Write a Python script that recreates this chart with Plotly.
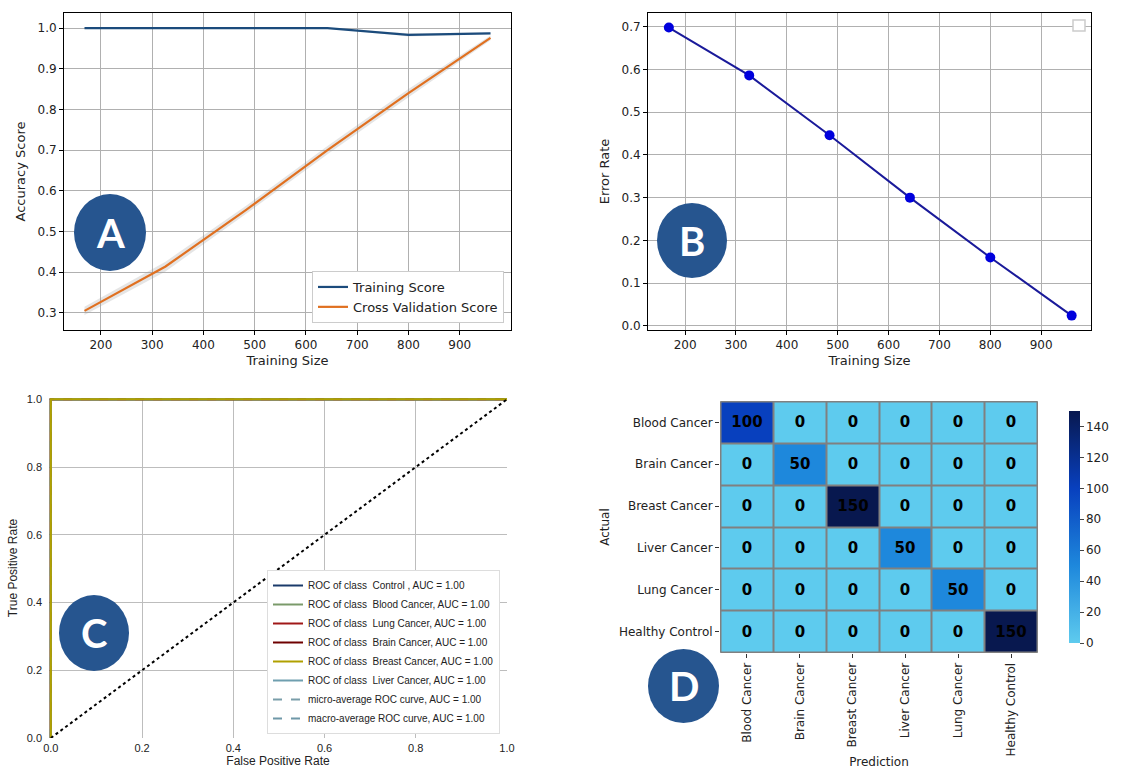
import plotly.graph_objects as go

W, H = 1147, 769

# ---------------- data ----------------
train_sizes = [168, 326, 484, 642, 800, 960]
train_score = [1.0, 1.0, 1.0, 1.0, 0.983, 0.987]
train_std = [0.0, 0.0, 0.0, 0.0, 0.004, 0.002]
cv_score = [0.305, 0.414, 0.554, 0.700, 0.840, 0.976]
cv_std = [0.010, 0.012, 0.010, 0.010, 0.010, 0.006]

error_rate = [0.698, 0.586, 0.446, 0.300, 0.160, 0.024]

roc_fpr = [0.0, 0.0, 1.0]
roc_tpr = [0.0, 1.0, 1.0]
diag = [0.0, 1.0]
roc_classes = ["ROC of class  Control , AUC = 1.00",
               "ROC of class  Blood Cancer, AUC = 1.00",
               "ROC of class  Lung Cancer, AUC = 1.00",
               "ROC of class  Brain Cancer, AUC = 1.00",
               "ROC of class  Breast Cancer, AUC = 1.00",
               "ROC of class  Liver Cancer, AUC = 1.00",
               "micro-average ROC curve, AUC = 1.00",
               "macro-average ROC curve, AUC = 1.00"]
roc_colors = ["#1a3a6a", "#7a9a6a", "#a01818", "#6e0000", "#b0a000", "#6f9faf", "#7a9eaa", "#6f98a8"]
roc_dash = ["solid"] * 6 + ["dash", "dash"]
draw_order = [0, 5, 2, 3, 6, 7, 1, 4]

cm_labels = ["Blood Cancer", "Brain Cancer", "Breast Cancer", "Liver Cancer", "Lung Cancer", "Healthy Control"]
cm_values = [[100, 0, 0, 0, 0, 0],
             [0, 50, 0, 0, 0, 0],
             [0, 0, 150, 0, 0, 0],
             [0, 0, 0, 50, 0, 0],
             [0, 0, 0, 0, 50, 0],
             [0, 0, 0, 0, 0, 150]]

# ---------------- helpers ----------------
def px(x):
    return x / W

def py(y):
    return 1 - y / H

DJ = "DejaVu Sans"
AR = "Liberation Sans, Arial"

fig = go.Figure()

# ---- Panel A ----
gray_fill = "rgba(150,150,150,0.25)"
fig.add_trace(go.Scatter(x=train_sizes, y=[s + d for s, d in zip(train_score, train_std)], mode="lines",
                         line=dict(width=0), showlegend=False, hoverinfo="skip", xaxis="x", yaxis="y"))
fig.add_trace(go.Scatter(x=train_sizes, y=[s - d for s, d in zip(train_score, train_std)], mode="lines",
                         line=dict(width=0), fill="tonexty", fillcolor=gray_fill, showlegend=False,
                         hoverinfo="skip", xaxis="x", yaxis="y"))
fig.add_trace(go.Scatter(x=train_sizes, y=[s + d for s, d in zip(cv_score, cv_std)], mode="lines",
                         line=dict(width=0), showlegend=False, hoverinfo="skip", xaxis="x", yaxis="y"))
fig.add_trace(go.Scatter(x=train_sizes, y=[s - d for s, d in zip(cv_score, cv_std)], mode="lines",
                         line=dict(width=0), fill="tonexty", fillcolor=gray_fill, showlegend=False,
                         hoverinfo="skip", xaxis="x", yaxis="y"))
fig.add_trace(go.Scatter(x=train_sizes, y=train_score, mode="lines", name="Training Score",
                         line=dict(color="#1b4b7c", width=2.2), xaxis="x", yaxis="y", legend="legend"))
fig.add_trace(go.Scatter(x=train_sizes, y=cv_score, mode="lines", name="Cross Validation Score",
                         line=dict(color="#e07020", width=2.2), xaxis="x", yaxis="y", legend="legend"))

# ---- Panel B ----
fig.add_trace(go.Scatter(x=train_sizes, y=error_rate, mode="lines+markers", showlegend=False,
                         line=dict(color="#1a1a9a", width=2),
                         marker=dict(color="#0000dd", size=10), xaxis="x2", yaxis="y2"))

# ---- Panel C ----
for i in draw_order:
    fig.add_trace(go.Scatter(x=roc_fpr, y=roc_tpr, mode="lines", name=roc_classes[i],
                             line=dict(color=roc_colors[i], width=2, dash=roc_dash[i]),
                             legendrank=i + 1, xaxis="x3", yaxis="y3", legend="legend2"))
fig.add_trace(go.Scatter(x=diag, y=diag, mode="lines", showlegend=False,
                         line=dict(color="black", width=2, dash="dot"), xaxis="x3", yaxis="y3"))

# ---- Panel D ----
fig.add_trace(go.Heatmap(z=cm_values, x=cm_labels, y=cm_labels, zmin=0, zmax=150,
                         colorscale=[[0, "#5ecbee"], [0.333, "#1e88dc"], [0.667, "#0840be"], [1, "#08184f"]],
                         xgap=2, ygap=2, texttemplate="%{z}",
                         textfont=dict(family=DJ, size=15, color="black", weight="bold"),
                         xaxis="x4", yaxis="y4",
                         colorbar=dict(x=px(1059), xanchor="left", thickness=11, len=(653 - 401) / H,
                                       lenmode="fraction", y=(py(401) + py(653)) / 2, yanchor="middle",
                                       outlinewidth=0, ticks="outside", ticklen=4,
                                       tickvals=list(range(0, 150, 20)),
                                       tickfont=dict(family=DJ, size=12, color="#222"))))

# ---------------- axes ----------------
frame = dict(showline=True, mirror=True, linecolor="black", linewidth=1, ticks="outside", ticklen=4,
             tickcolor="black", showgrid=True, gridcolor="#b0b0b0", gridwidth=1, zeroline=False,
             automargin=False, tickfont=dict(family=DJ, size=12, color="#222"))

fig.update_layout(
    xaxis=dict(domain=[px(64), px(511)], anchor="y", range=[128, 1000], tickvals=list(range(200, 1000, 100)),
               title=dict(text="Training Size", font=dict(family=DJ, size=13, color="#222"), standoff=4), **frame),
    yaxis=dict(domain=[py(330), py(13)], anchor="x", range=[0.258, 1.037], dtick=0.1, tickformat=".1f",
               title=dict(text="Accuracy Score", font=dict(family=DJ, size=13, color="#222"), standoff=8), **frame),
    xaxis2=dict(domain=[px(648), px(1091)], anchor="y2", range=[127, 998], tickvals=list(range(200, 1000, 100)),
                title=dict(text="Training Size", font=dict(family=DJ, size=13, color="#222"), standoff=4), **frame),
    yaxis2=dict(domain=[py(330), py(13)], anchor="x2", range=[-0.0097, 0.732], dtick=0.1, tickformat=".1f",
                title=dict(text="Error Rate", font=dict(family=DJ, size=13, color="#222"), standoff=8), **frame),
    xaxis3=dict(domain=[px(49), px(507)], anchor="y3", range=[-0.004, 1.0], tickvals=[0, 0.2, 0.4, 0.6, 0.8, 1.0],
                tickformat=".1f", automargin=False, ticklabelstandoff=2,
                showline=False, showgrid=True, gridcolor="#bdbdbd", zeroline=False, ticks="",
                tickfont=dict(family=AR, size=11, color="#222"),
                title=dict(text="False Positive Rate", font=dict(family=AR, size=12, color="#222"), standoff=0)),
    yaxis3=dict(domain=[py(738), py(398)], anchor="x3", range=[0, 1.004], tickvals=[0, 0.2, 0.4, 0.6, 0.8, 1.0],
                tickformat=".1f", automargin=False, ticklabelstandoff=6,
                showline=False, showgrid=True, gridcolor="#bdbdbd", zeroline=False, ticks="",
                tickfont=dict(family=AR, size=11, color="#222"),
                title=dict(text="True Positive Rate", font=dict(family=AR, size=12, color="#222"), standoff=6)),
    xaxis4=dict(domain=[px(720), px(1038)], anchor="y4", tickangle=-90, ticks="outside", ticklen=4,
                tickcolor="#333", showgrid=False, zeroline=False, showline=False, automargin=False,
                tickfont=dict(family=DJ, size=12, color="#222"),
                title=dict(text="Prediction", font=dict(family=DJ, size=12, color="#222"), standoff=2)),
    yaxis4=dict(domain=[py(653), py(401)], anchor="x4", autorange="reversed", ticks="outside", ticklen=4,
                tickcolor="#333", showgrid=False, zeroline=False, showline=False, automargin=False,
                tickfont=dict(family=DJ, size=12, color="#222"),
                title=dict(text="Actual", font=dict(family=DJ, size=12, color="#222"), standoff=6)),
)

# ---------------- legends ----------------
fig.update_layout(
    legend=dict(x=px(504), xanchor="right", y=py(323), yanchor="bottom", bgcolor="white",
                bordercolor="#cccccc", borderwidth=1, font=dict(family=DJ, size=13, color="#222"),
                tracegroupgap=0, traceorder="normal"),
    legend2=dict(x=px(500), xanchor="right", y=py(734), yanchor="bottom", bgcolor="white",
                 bordercolor="#dddddd", borderwidth=1, font=dict(family=AR, size=10, color="#222"),
                 tracegroupgap=0, traceorder="normal", itemwidth=30),
)

# ---------------- shapes & badges ----------------
shapes = [
    # heatmap grid background (gray cell borders)
    dict(type="rect", xref="x4", yref="y4", x0=-0.5, x1=len(cm_labels) - 0.5, y0=-0.5, y1=len(cm_labels) - 0.5,
         fillcolor="#808080", line=dict(color="#808080", width=1), layer="below"),
    # empty legend box in panel B
    dict(type="rect", xref="paper", yref="paper", x0=px(1073), x1=px(1085), y0=py(31), y1=py(20),
         fillcolor="white", line=dict(color="#cccccc", width=1.5)),
]
badges = [("A", 74, 194, 146, 271), ("B", 657, 203, 727, 278), ("C", 59, 595, 129, 671), ("D", 648, 649, 719, 723)]
annotations = []
for letter, x0, y0, x1, y1 in badges:
    shapes.append(dict(type="circle", xref="paper", yref="paper", x0=px(x0), x1=px(x1), y0=py(y1), y1=py(y0),
                       fillcolor="#26558f", line=dict(width=0)))
    annotations.append(dict(text=f"<b>{letter}</b>", xref="paper", yref="paper", x=px((x0 + x1) / 2),
                            y=py((y0 + y1) / 2), showarrow=False, xanchor="center", yanchor="middle",
                            font=dict(family="Lato, Open Sans", size=40, color="white")))

fig.update_layout(shapes=shapes, annotations=annotations, width=W, height=H,
                  margin=dict(l=0, r=0, t=0, b=0), plot_bgcolor="white", paper_bgcolor="white",
                  template="none")

fig.write_html("out.html", config={"displayModeBar": False},
               post_script="document.body.style.margin='0';document.body.style.overflow='hidden';")
